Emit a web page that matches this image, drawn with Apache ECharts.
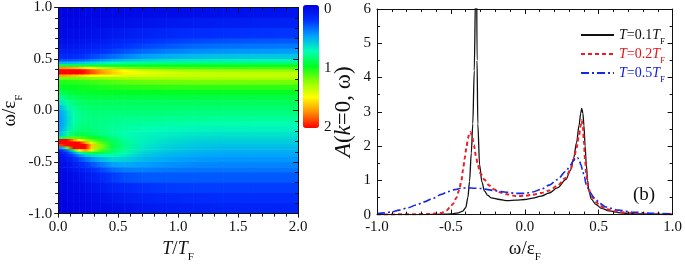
<!DOCTYPE html>
<html>
<head>
<meta charset="utf-8">
<script src="https://cdn.jsdelivr.net/npm/echarts@6/dist/echarts.min.js"></script>
<style>
  html, body { margin: 0; padding: 0; background: #fff; }
  #main { width: 685px; height: 268px; }
</style>
</head>
<body>
<div id="main"></div>
<script>
// (a) spectral weight map, cells between these edges (T/TF across, w/eF top to bottom)
var tEdges = [0, 0.05, 0.1, 0.15, 0.2, 0.25, 0.3, 0.4, 0.5, 0.6, 0.8, 1.0, 1.25, 1.5, 1.75, 2.0];
var wEdges = [1.0, 0.9, 0.8, 0.7, 0.65, 0.6, 0.55, 0.5, 0.475, 0.45, 0.425, 0.4, 0.375, 0.35, 0.325, 0.3,
  0.25, 0.2, 0.15, 0.1, 0.05, 0, -0.05, -0.1, -0.15, -0.2, -0.25, -0.275, -0.3, -0.325, -0.35, -0.375,
  -0.4, -0.425, -0.45, -0.5, -0.55, -0.6, -0.7, -0.8, -0.9, -1.0];
// one row per w cell (top first), one value per T cell
var weight = [
  [0.02,0.02,0.02,0.02,0.03,0.03,0.03,0.04,0.04,0.05,0.06,0.07,0.08,0.09,0.1],
  [0.03,0.03,0.03,0.04,0.04,0.05,0.06,0.07,0.08,0.1,0.12,0.14,0.15,0.16,0.17],
  [0.05,0.05,0.06,0.06,0.07,0.08,0.1,0.12,0.14,0.17,0.2,0.23,0.24,0.25,0.26],
  [0.08,0.08,0.09,0.1,0.11,0.12,0.14,0.17,0.2,0.23,0.27,0.3,0.32,0.33,0.34],
  [0.11,0.11,0.12,0.13,0.14,0.16,0.18,0.21,0.25,0.29,0.33,0.37,0.39,0.4,0.41],
  [0.15,0.15,0.16,0.17,0.19,0.21,0.24,0.28,0.32,0.37,0.42,0.45,0.47,0.48,0.49],
  [0.21,0.21,0.22,0.24,0.26,0.29,0.33,0.38,0.43,0.49,0.54,0.57,0.59,0.6,0.6],
  [0.33,0.33,0.34,0.36,0.39,0.43,0.48,0.54,0.59,0.64,0.68,0.7,0.71,0.72,0.72],
  [0.55,0.56,0.58,0.6,0.63,0.66,0.7,0.75,0.79,0.81,0.83,0.84,0.85,0.85,0.85],
  [0.95,0.95,0.95,0.95,0.95,0.95,0.96,0.97,0.98,0.99,1.0,1.0,1.0,1.0,1.0],
  [1.75,1.72,1.68,1.62,1.55,1.46,1.36,1.26,1.19,1.15,1.13,1.12,1.12,1.12,1.12],
  [2,2,2,2,1.95,1.85,1.72,1.6,1.5,1.42,1.35,1.3,1.28,1.27,1.26],
  [2,2,2,2,1.95,1.86,1.74,1.62,1.53,1.46,1.41,1.38,1.36,1.35,1.35],
  [1.7,1.68,1.65,1.6,1.56,1.52,1.48,1.45,1.42,1.4,1.38,1.37,1.37,1.37,1.37],
  [1.2,1.2,1.2,1.21,1.22,1.24,1.26,1.28,1.3,1.31,1.32,1.32,1.32,1.32,1.32],
  [1.05,1.06,1.07,1.08,1.09,1.1,1.12,1.14,1.16,1.18,1.19,1.2,1.2,1.2,1.2],
  [1.0,1.0,1.0,1.01,1.02,1.03,1.04,1.05,1.06,1.07,1.08,1.08,1.08,1.08,1.08],
  [0.92,0.95,0.97,0.98,0.98,0.99,0.99,1.0,1.0,1.0,1.0,1.0,1.0,1.0,1.0],
  [0.8,0.87,0.9,0.92,0.93,0.93,0.94,0.94,0.94,0.94,0.94,0.94,0.94,0.94,0.94],
  [0.68,0.8,0.85,0.88,0.89,0.9,0.9,0.9,0.9,0.9,0.9,0.9,0.9,0.9,0.9],
  [0.58,0.72,0.8,0.84,0.86,0.87,0.87,0.87,0.87,0.87,0.87,0.87,0.87,0.87,0.87],
  [0.52,0.66,0.77,0.82,0.84,0.85,0.85,0.85,0.85,0.85,0.85,0.84,0.84,0.84,0.84],
  [0.5,0.64,0.76,0.81,0.83,0.84,0.84,0.83,0.82,0.82,0.81,0.81,0.8,0.8,0.8],
  [0.5,0.64,0.77,0.82,0.84,0.84,0.83,0.81,0.8,0.79,0.78,0.77,0.77,0.76,0.76],
  [0.52,0.68,0.8,0.85,0.86,0.85,0.83,0.8,0.78,0.76,0.74,0.73,0.72,0.72,0.72],
  [0.6,0.78,0.88,0.92,0.92,0.89,0.85,0.8,0.76,0.73,0.71,0.69,0.68,0.68,0.68],
  [0.85,1.1,1.15,1.12,1.08,1.02,0.95,0.85,0.78,0.72,0.69,0.66,0.65,0.65,0.65],
  [2,2,1.75,1.5,1.32,1.18,1.05,0.9,0.8,0.72,0.67,0.64,0.63,0.63,0.63],
  [2,2,2,2,1.72,1.42,1.16,0.92,0.81,0.71,0.66,0.62,0.61,0.61,0.61],
  [1.9,2,2,2,2,1.62,1.24,0.94,0.82,0.7,0.64,0.61,0.59,0.59,0.59],
  [0.5,1.2,2,2,2,1.6,1.22,0.93,0.82,0.69,0.63,0.59,0.57,0.57,0.57],
  [0.2,0.4,0.9,1.5,1.7,1.42,1.12,0.9,0.8,0.67,0.61,0.57,0.55,0.55,0.55],
  [0.14,0.25,0.45,0.7,0.9,0.95,0.92,0.84,0.76,0.64,0.58,0.55,0.53,0.53,0.53],
  [0.1,0.18,0.3,0.45,0.58,0.66,0.72,0.76,0.7,0.61,0.56,0.53,0.51,0.51,0.51],
  [0.08,0.13,0.2,0.3,0.38,0.46,0.55,0.64,0.63,0.57,0.52,0.49,0.48,0.48,0.48],
  [0.06,0.09,0.14,0.2,0.26,0.32,0.4,0.5,0.53,0.5,0.47,0.45,0.44,0.44,0.44],
  [0.05,0.07,0.1,0.14,0.18,0.22,0.29,0.38,0.42,0.43,0.41,0.4,0.4,0.4,0.4],
  [0.04,0.05,0.07,0.09,0.12,0.15,0.2,0.27,0.31,0.34,0.34,0.34,0.34,0.34,0.34],
  [0.03,0.04,0.05,0.06,0.08,0.1,0.13,0.18,0.21,0.25,0.27,0.28,0.28,0.28,0.28],
  [0.02,0.03,0.04,0.04,0.05,0.07,0.09,0.12,0.15,0.18,0.2,0.22,0.23,0.23,0.23],
  [0.02,0.02,0.03,0.03,0.04,0.05,0.06,0.08,0.1,0.13,0.15,0.17,0.18,0.19,0.19]
];

// (b) A(k=0, w) cuts
var wT01 = [-1.0,-0.7,-0.55,-0.5,-0.45,-0.42,-0.4,-0.385,-0.374,-0.362,-0.352,-0.342,-0.333,-0.328,-0.323,-0.318,-0.306,-0.29,-0.273,-0.25,-0.228,-0.17,-0.118,-0.06,0,0.054,0.11,0.165,0.22,0.277,0.31,0.33,0.35,0.367,0.378,0.385,0.393,0.4,0.408,0.416,0.425,0.434,0.45,0.48,0.52,0.57,0.65,0.72,0.85,1.0];
var aT01 = [0,0,0.01,0.02,0.05,0.1,0.2,0.5,0.97,1.8,2.65,4.2,6.5,9,4.5,2.65,1.45,0.95,0.69,0.56,0.49,0.44,0.41,0.42,0.44,0.48,0.54,0.63,0.78,1.02,1.3,1.64,2.1,2.6,2.95,3.1,2.95,2.6,2.0,1.45,1.0,0.68,0.45,0.3,0.18,0.11,0.05,0.03,0.01,0];
var wT02 = [-1.0,-0.75,-0.65,-0.6,-0.564,-0.53,-0.508,-0.485,-0.463,-0.445,-0.43,-0.418,-0.407,-0.395,-0.385,-0.375,-0.367,-0.357,-0.345,-0.33,-0.318,-0.3,-0.273,-0.24,-0.205,-0.16,-0.116,-0.06,0,0.054,0.11,0.165,0.22,0.277,0.31,0.33,0.35,0.367,0.378,0.385,0.393,0.4,0.408,0.416,0.43,0.445,0.46,0.485,0.51,0.55,0.63,0.72,0.85,1.0];
var aT02 = [0,0.01,0.02,0.03,0.05,0.12,0.2,0.32,0.49,0.7,0.97,1.3,1.64,1.95,2.22,2.38,2.41,2.3,2.03,1.7,1.45,1.2,1.02,0.85,0.73,0.64,0.59,0.54,0.55,0.58,0.63,0.7,0.84,1.07,1.33,1.6,1.95,2.32,2.6,2.75,2.55,2.1,1.6,1.16,0.8,0.6,0.49,0.35,0.25,0.16,0.08,0.04,0.02,0.01];
var wT05 = [-1.0,-0.95,-0.9,-0.85,-0.79,-0.735,-0.68,-0.62,-0.564,-0.52,-0.475,-0.43,-0.385,-0.34,-0.295,-0.25,-0.205,-0.16,-0.116,-0.06,0,0.054,0.11,0.165,0.22,0.277,0.31,0.33,0.345,0.358,0.37,0.38,0.39,0.403,0.416,0.44,0.47,0.51,0.55,0.63,0.74,0.85,1.0];
var aT05 = [0.03,0.05,0.08,0.13,0.2,0.28,0.37,0.48,0.59,0.67,0.73,0.77,0.78,0.77,0.76,0.73,0.7,0.67,0.65,0.62,0.62,0.66,0.74,0.86,1.02,1.26,1.45,1.58,1.65,1.66,1.55,1.45,1.31,1.1,0.87,0.65,0.49,0.32,0.22,0.13,0.07,0.04,0.02];

var xTicksA = [0, 2, 0.5];   // min, max, interval
var yTicksA = [-1, 1, 0.5];
var xTicksB = [-1, 1, 0.5];
var yTicksB = [0, 6, 1];

var serif = 'Liberation Serif';
var chart = echarts.init(document.getElementById('main'));

var nCols = tEdges.length - 1;
var cells = [];
for (var r = 0; r < weight.length; r++) {
  for (var c = 0; c < nCols; c++) {
    cells.push([tEdges[c], tEdges[c + 1], wEdges[r + 1], wEdges[r], weight[r][c], c]);
  }
}
function pairs(xs, ys) {
  return xs.map(function (x, i) { return [x, ys[i]]; });
}
function fmt1(v) { return v.toFixed(1); }

// each cell is shaded from its centre to the centre of its right-hand neighbour
function renderCell(params, api) {
  var i = params.dataIndexInside;
  var col = api.value(5);
  var t0 = api.value(0), t1 = api.value(1);
  var y0 = api.coord([t0, api.value(3)])[1];
  var y1 = api.coord([t0, api.value(2)])[1];
  var h = y1 - y0 + 0.6;
  var xc = api.coord([(t0 + t1) / 2, 0])[0];
  var color = api.visual('color');
  var kids = [];
  if (col === 0) {
    var xl = api.coord([t0, 0])[0];
    kids.push({ type: 'rect', shape: { x: xl, y: y0, width: xc - xl + 0.6, height: h }, style: { fill: color } });
  }
  if (col === nCols - 1) {
    var xr = api.coord([t1, 0])[0];
    kids.push({ type: 'rect', shape: { x: xc, y: y0, width: xr - xc, height: h }, style: { fill: color } });
  } else {
    var n = i + 1;
    var xn = api.coord([(api.value(0, n) + api.value(1, n)) / 2, 0])[0];
    kids.push({
      type: 'rect', shape: { x: xc, y: y0, width: xn - xc + 0.6, height: h },
      style: { fill: new echarts.graphic.LinearGradient(0, 0, 1, 0, [
        { offset: 0, color: color }, { offset: 1, color: api.visual('color', n) }
      ]) }
    });
  }
  return { type: 'group', children: kids };
}

// one framed axis; mirrored sides have no labels
function axis(grid, pos, ticks, minor, opts) {
  return Object.assign({
    gridIndex: grid, type: 'value', position: pos,
    min: ticks[0], max: ticks[1], interval: ticks[2], z: 5,
    axisLine: { show: true, onZero: false, lineStyle: { color: '#111', width: 1 } },
    axisTick: { show: true, inside: true, length: 5, lineStyle: { color: '#111' } },
    minorTick: { show: true, splitNumber: minor, length: 3, lineStyle: { color: '#111' } },
    axisLabel: { show: false },
    splitLine: { show: false }
  }, opts || {});
}
var tickFont = { color: '#111', fontFamily: serif, fontSize: 15 };
var nameRich = {
  i: { fontFamily: serif, fontSize: 18, fontStyle: 'italic', lineHeight: 28, color: '#111' },
  n: { fontFamily: serif, fontSize: 19, lineHeight: 28, color: '#111' },
  s: { fontFamily: serif, fontSize: 11, lineHeight: 12, verticalAlign: 'bottom', color: '#111' },
  bi: { fontFamily: serif, fontSize: 23, fontStyle: 'italic', lineHeight: 28, color: '#111' },
  bn: { fontFamily: serif, fontSize: 23, lineHeight: 28, color: '#111' }
};

function legendRich(key, color) {
  var o = {};
  o[key + 'i'] = { fontFamily: serif, fontSize: 14, fontStyle: 'italic', lineHeight: 22, color: color };
  o[key + 'n'] = { fontFamily: serif, fontSize: 14, lineHeight: 22, color: color };
  o[key + 's'] = { fontFamily: serif, fontSize: 9, lineHeight: 6, verticalAlign: 'bottom', color: color };
  return o;
}
var legendNames = ['T=0.1TF', 'T=0.2TF', 'T=0.5TF'];
var legendKeys = { 'T=0.1TF': ['k', '0.1'], 'T=0.2TF': ['r', '0.2'], 'T=0.5TF': ['b', '0.5'] };

chart.setOption({
  animation: false,
  grid: [
    { left: 53, top: 7, width: 245, height: 215 },
    { left: 377, top: 9, width: 297, height: 208 },
    { left: 303, top: 9, width: 16, height: 118 }
  ],
  xAxis: [
    axis(0, 'bottom', xTicksA, 5, {
      axisTick: { show: true, inside: false, length: 4, lineStyle: { color: '#111' } },
      axisLabel: Object.assign({ show: true, margin: 6, formatter: fmt1 }, tickFont),
      name: '{i|T}{n|/}{i|T}{s|F}', nameLocation: 'middle', nameGap: 18,
      nameTextStyle: { rich: nameRich }
    }),
    axis(0, 'top', xTicksA, 5),
    axis(1, 'bottom', xTicksB, 5, {
      axisLabel: Object.assign({ show: true, margin: 5, formatter: fmt1 }, tickFont),
      name: '{n|ω/ε}{s|F}', nameLocation: 'middle', nameGap: 17,
      nameTextStyle: { rich: nameRich }
    }),
    axis(1, 'top', xTicksB, 5),
    { gridIndex: 2, type: 'value', min: 0, max: 1, show: false }
  ],
  yAxis: [
    axis(0, 'left', yTicksA, 5, {
      axisTick: { show: true, inside: false, length: 4, lineStyle: { color: '#111' } },
      axisLabel: Object.assign({ show: true, margin: 6, formatter: fmt1 }, tickFont),
      name: '{n|ω/ε}{s|F}', nameLocation: 'middle', nameGap: 32,
      nameTextStyle: { rich: nameRich }
    }),
    axis(0, 'right', yTicksA, 5),
    axis(1, 'left', yTicksB, 2, {
      axisLabel: Object.assign({ show: true, margin: 6 }, tickFont),
      name: '{bi|A}{bn|(}{bi|k}{bn|=0, ω)}', nameLocation: 'middle', nameGap: 19,
      nameTextStyle: { rich: nameRich }
    }),
    axis(1, 'right', yTicksB, 2),
    { gridIndex: 2, type: 'value', min: 0, max: 2, interval: 1, inverse: true, position: 'right',
      axisLine: { show: false }, axisTick: { show: false }, splitLine: { show: false },
      axisLabel: Object.assign({ show: true, margin: 5 }, tickFont) }
  ],
  visualMap: {
    type: 'continuous', min: 0, max: 2, seriesIndex: 0, dimension: 4,
    inverse: true, calculable: false, hoverLink: false,
    left: 303, top: 5, itemWidth: 16, itemHeight: 123, padding: 0,
    inRange: { color: ['#0000e0', '#0030ff', '#00a0ff', '#00ffb4', '#00ff20', '#90ff00', '#ffff00', '#ff8c00', '#ff0000'] }
  },
  legend: {
    orient: 'vertical', left: 575, top: 23, itemWidth: 33, itemHeight: 12, itemGap: 1,
    data: legendNames,
    itemStyle: { opacity: 0 },
    formatter: function (name) {
      var k = legendKeys[name];
      return '{' + k[0] + 'i|T}{' + k[0] + 'n|=' + k[1] + '}{' + k[0] + 'i|T}{' + k[0] + 's|F}';
    },
    textStyle: {
      fontFamily: serif, fontSize: 14, padding: [0, 0, 0, 0],
      rich: Object.assign({}, legendRich('k', '#111'), legendRich('r', '#e8141b'), legendRich('b', '#1020e0'))
    }
  },
  graphic: [
    { type: 'text', left: 260, top: 189, style: { text: '(a)', font: '19px "Liberation Serif"', fill: '#111' } },
    { type: 'text', left: 633, top: 186, style: { text: '(b)', font: '19px "Liberation Serif"', fill: '#111' } }
  ],
  series: [
    {
      type: 'custom', xAxisIndex: 0, yAxisIndex: 0, clip: true, z: 1,
      encode: { x: [0, 1], y: [2, 3] },
      data: cells,
      renderItem: renderCell
    },
    {
      name: 'T=0.1TF', type: 'line', xAxisIndex: 2, yAxisIndex: 2, symbol: 'none',
      smooth: 0.3, smoothMonotone: 'x',
      lineStyle: { color: '#111', width: 1.3 }, itemStyle: { color: '#111' },
      data: pairs(wT01, aT01)
    },
    {
      name: 'T=0.2TF', type: 'line', xAxisIndex: 2, yAxisIndex: 2, symbol: 'none',
      smooth: 0.3, smoothMonotone: 'x',
      lineStyle: { color: '#ee1c24', width: 2, type: [4, 3] }, itemStyle: { color: '#ee1c24' },
      data: pairs(wT02, aT02)
    },
    {
      name: 'T=0.5TF', type: 'line', xAxisIndex: 2, yAxisIndex: 2, symbol: 'none',
      smooth: 0.3, smoothMonotone: 'x',
      lineStyle: { color: '#1428e6', width: 1.6, type: [8, 3, 2, 3] }, itemStyle: { color: '#1428e6' },
      data: pairs(wT05, aT05)
    }
  ]
});
</script>
</body>
</html>
